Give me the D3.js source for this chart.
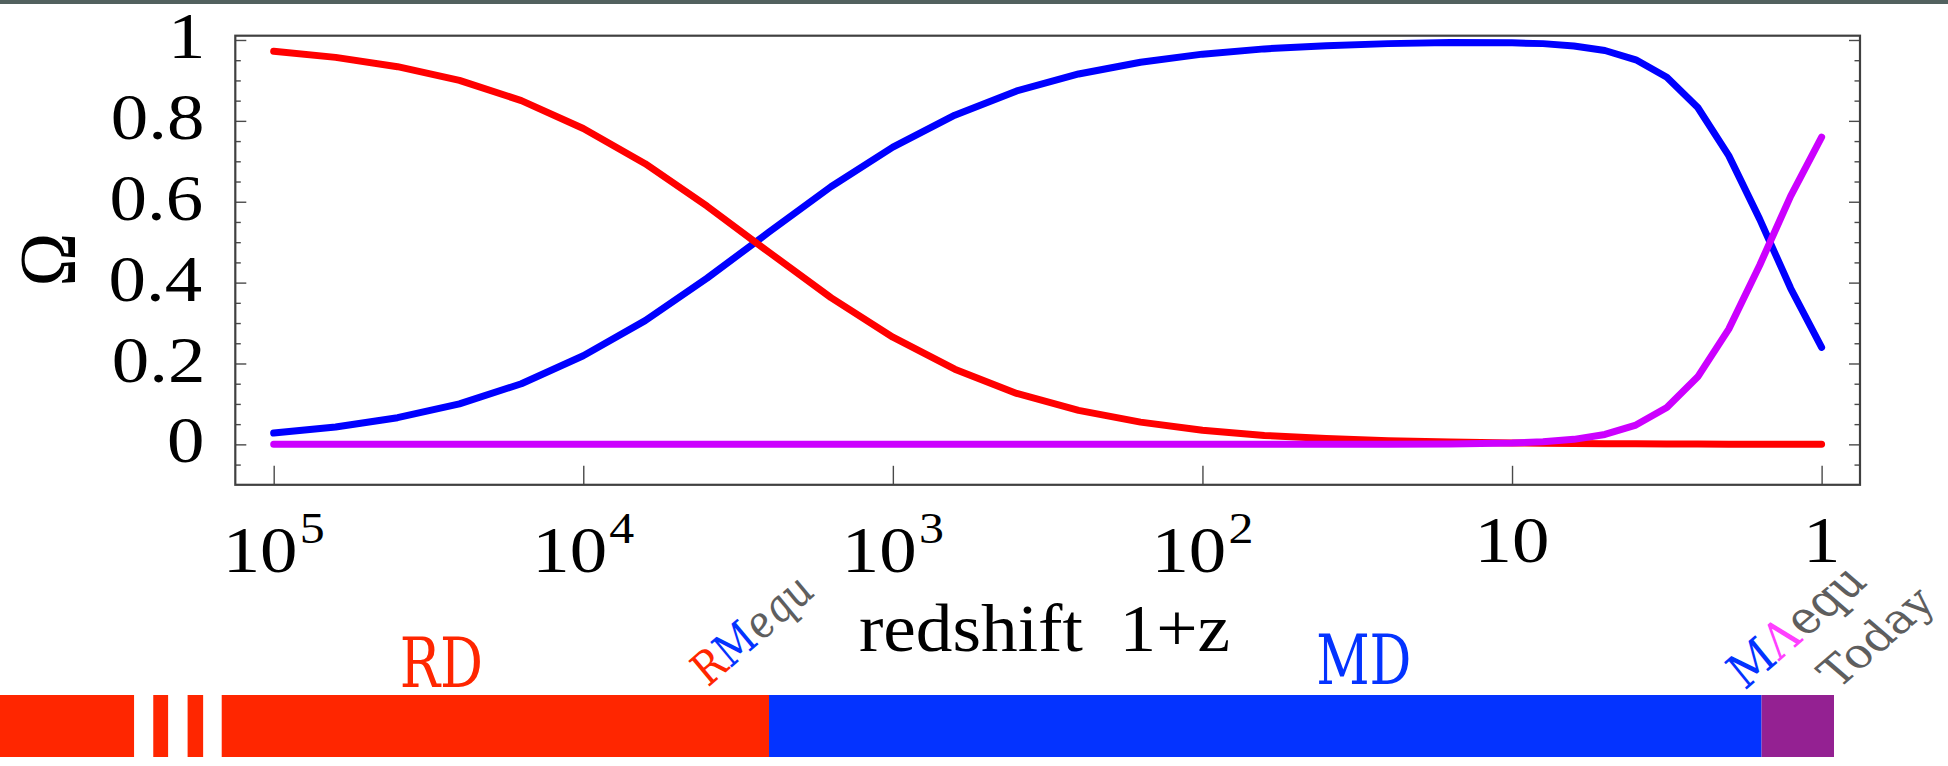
<!DOCTYPE html>
<html><head><meta charset="utf-8">
<script src="https://cdn.jsdelivr.net/npm/d3@7"></script>
<style>
html,body{margin:0;padding:0;background:#fff;}
svg{display:block;}
</style></head>
<body>
<svg id="chart" width="1948" height="766"></svg>
<script>
// ---------------- data ----------------
const redshift = [100000, 63096, 39811, 25119, 15849, 10000, 6310, 3981, 2512, 1585, 1000, 631, 398.1, 251.2, 158.5, 100, 63.1, 39.81, 25.12, 15.85, 10, 7.943, 6.310, 5.012, 3.981, 3.162, 2.512, 1.995, 1.585, 1.259, 1];
const omegaRadiation = [0.972, 0.957, 0.934, 0.900, 0.850, 0.781, 0.694, 0.589, 0.475, 0.363, 0.265, 0.186, 0.126, 0.084, 0.055, 0.035, 0.022, 0.0142, 0.0090, 0.0057, 0.0036, 0.0028, 0.0022, 0.0018, 0.0014, 0.0010, 0.0007, 0.0005, 0.0003, 0.0002, 0.0001];
const omegaMatter = [0.028, 0.043, 0.066, 0.100, 0.150, 0.219, 0.306, 0.411, 0.525, 0.637, 0.735, 0.814, 0.874, 0.916, 0.945, 0.965, 0.978, 0.986, 0.991, 0.994, 0.993, 0.991, 0.985, 0.974, 0.951, 0.908, 0.833, 0.714, 0.557, 0.386, 0.240];
const omegaLambda = [0, 0, 0, 0, 0, 0, 0, 0, 0, 0, 0, 0, 0, 0, 0, 0, 0, 0.0001, 0.0002, 0.0008, 0.0032, 0.0063, 0.0124, 0.0245, 0.0478, 0.091, 0.167, 0.285, 0.443, 0.614, 0.760];

const xTickValues = [100000, 10000, 1000, 100, 10, 1];
const xTickBase = ["10", "10", "10", "10", "10", "1"];
const xTickExponent = ["5", "4", "3", "2", "", ""];
const yTickValues = [0, 0.2, 0.4, 0.6, 0.8, 1];
const yTickLabels = ["0", "0.2", "0.4", "0.6", "0.8", "1"];
const yMinorTicks = [-0.05, 0.05, 0.1, 0.15, 0.25, 0.3, 0.35, 0.45, 0.5, 0.55, 0.65, 0.7, 0.75, 0.85, 0.9, 0.95];

// era bar (in 1+z)
const eraKind  = ["RD", "RD", "RD", "RD", "MD", "LD"];
const eraStart = [780000, 244900, 189700, 147200, 2512, 1.563];
const eraEnd   = [282500, 219300, 169000, 2512, 1.563, 0.912];
const eraLabels = ["RD", "MD"];
const eraLabelAt = [28800, 30.2];

// ---------------- layout ----------------
const plot = {left: 235.3, right: 1860, top: 35.7, bottom: 484.8};
const SERIF = '"Liberation Serif", "Times New Roman", serif';
const SLAB = '"DejaVu Serif", serif';
const lineColor = {rad: "#ff0000", mat: "#0000ff", lam: "#cc00ff"};
const eraColor = {RD: "#ff2600", MD: "#0433ff", LD: "#942192"};
const grey = "#5e5e5e";

// ink metrics helper (canvas measureText) so glyph sizes match the artwork
const ctx = document.createElement("canvas").getContext("2d");
function ink(text, family, size, style) {
  ctx.font = `${style || "normal"} ${size}px ${family}`;
  const m = ctx.measureText(text);
  return {left: -m.actualBoundingBoxLeft, right: m.actualBoundingBoxRight,
          w: m.actualBoundingBoxLeft + m.actualBoundingBoxRight,
          asc: m.actualBoundingBoxAscent, desc: m.actualBoundingBoxDescent,
          h: m.actualBoundingBoxAscent + m.actualBoundingBoxDescent, adv: m.width};
}
// serif numerals: digit height 45px, "0.8" ink width 89px
const numSize = 100 * 45 / ink("0", SERIF, 100).h;
const numSX = 89 / ink("0.8", SERIF, numSize).w;

const svg = d3.select("#chart");
svg.append("rect").attr("width", 1948).attr("height", 766).attr("fill", "#fff");
svg.append("rect").attr("width", 1948).attr("height", 4).attr("fill", "#52615f");

const x = d3.scaleLog().domain([Math.pow(10, 5.124), Math.pow(10, -0.124)]).range([plot.left, plot.right]);
const y = d3.scaleLinear().domain([-0.1, 1.0106]).range([plot.bottom, plot.top]);

function styleTicks(g) {
  g.select(".domain").remove();
  g.selectAll(".tick line").attr("stroke", "#4a4a4a").attr("stroke-width", 1.4);
}

// left axis
const gLm = svg.append("g").attr("transform", `translate(${plot.left},0)`)
  .call(d3.axisLeft(y).tickValues(yMinorTicks).tickSize(-5.5).tickFormat(""));
styleTicks(gLm);
const gL = svg.append("g").attr("transform", `translate(${plot.left},0)`)
  .call(d3.axisLeft(y).tickValues(yTickValues).tickSize(-11).tickFormat((d, i) => yTickLabels[i]));
styleTicks(gL);
gL.selectAll(".tick text")
  .attr("x", null).attr("dy", null).attr("text-anchor", "start")
  .attr("transform", (d, i) => {
    const m = ink(yTickLabels[i], SERIF, numSize);
    return `translate(${202 - plot.left - m.right * numSX},17.6) scale(${numSX},1)`;
  })
  .style("font-family", SERIF).style("font-size", numSize + "px").attr("fill", "#000");

// right axis
const gRm = svg.append("g").attr("transform", `translate(${plot.right},0)`)
  .call(d3.axisRight(y).tickValues(yMinorTicks).tickSize(-5.5).tickFormat(""));
styleTicks(gRm);
const gR = svg.append("g").attr("transform", `translate(${plot.right},0)`)
  .call(d3.axisRight(y).tickValues(yTickValues).tickSize(-11).tickFormat(""));
styleTicks(gR);

// bottom axis
const gB = svg.append("g").attr("transform", `translate(0,${plot.bottom})`)
  .call(d3.axisBottom(x).tickValues(xTickValues).tickSize(-19).tickFormat(""));
styleTicks(gB);

// x tick labels
const xl = svg.append("g").selectAll("text").data(xTickValues).join("text")
  .attr("transform", (d, i) => `translate(${x(d)},${xTickExponent[i] ? 572 : 562}) scale(${numSX},1)`)
  .attr("text-anchor", "middle")
  .style("font-family", SERIF).style("font-size", numSize + "px").attr("fill", "#000");
xl.append("tspan").text((d, i) => xTickBase[i]);
xl.filter((d, i) => xTickExponent[i] !== "").append("tspan")
  .style("font-size", (numSize * 0.667) + "px").attr("dy", -29).attr("dx", 2)
  .text(d => xTickExponent[xTickValues.indexOf(d)]);

// frame
svg.append("rect").attr("x", plot.left).attr("y", plot.top)
  .attr("width", plot.right - plot.left).attr("height", plot.bottom - plot.top)
  .attr("fill", "none").attr("stroke", "#404040").attr("stroke-width", 2.2);

// curves
const series = [
  {values: omegaMatter, color: lineColor.mat},
  {values: omegaRadiation, color: lineColor.rad},
  {values: omegaLambda, color: lineColor.lam}
];
const line = d3.line().x(d => x(d[0])).y(d => y(d[1]));
svg.append("g").selectAll("path").data(series).join("path")
  .attr("d", s => line(redshift.map((z, i) => [z, s.values[i]])))
  .attr("fill", "none").attr("stroke", s => s.color).attr("stroke-width", 7)
  .attr("stroke-linecap", "round").attr("stroke-linejoin", "round");

// Omega (rotated): on-screen width 54, height 47
{
  const s0 = ink("Ω", SERIF, 100);
  const size = 100 * 47 / s0.w;
  const m = ink("Ω", SERIF, size);
  const sx = 54 / m.h;
  const tx = 48 - sx * (m.desc - m.asc) / 2;
  const ty = 260 + (m.left + m.right) / 2;
  svg.append("text").attr("transform", `translate(${tx},${ty}) scale(${sx},1) rotate(-90)`)
    .style("font-family", SERIF).style("font-size", size + "px").attr("fill", "#000").text("Ω");
}
// x axis title: ink 860..1229, ascender 48, baseline 651
{
  const t = "redshift\u00a0\u00a01+z";
  const s0 = ink(t, SERIF, 100);
  const size = 100 * 48 / s0.asc;
  const m = ink(t, SERIF, size);
  const sx = 369 / m.w;
  svg.append("text").attr("transform", `translate(${860 - m.left * sx},651) scale(${sx},1)`)
    .style("font-family", SERIF).style("font-size", size + "px").attr("fill", "#000").text(t);
}

// era bar
const barTop = 695, barBottom = 757;
svg.append("g").selectAll("rect").data(eraKind).join("rect")
  .attr("x", (d, i) => x(eraStart[i]))
  .attr("width", (d, i) => x(eraEnd[i]) - x(eraStart[i]))
  .attr("y", barTop).attr("height", barBottom - barTop)
  .attr("fill", d => eraColor[d]);

// era labels: cap height 50, widths 78 / 90
{
  const capSize = 100 * 50 / ink("D", SLAB, 100).h;
  const widths = [78, 90], bases = [687, 684];
  svg.append("g").selectAll("text").data(eraLabels).join("text")
    .attr("transform", (d, i) => {
      const m = ink(d, SLAB, capSize);
      const sx = widths[i] / m.w;
      const cx = x(eraLabelAt[i]);
      return `translate(${cx - (m.left + m.right) / 2 * sx},${bases[i]}) scale(${sx},1)`;
    })
    .style("font-family", SLAB).style("font-size", capSize + "px")
    .attr("fill", d => eraColor[d]).text(d => d);
}

function rotLabel(x0, y0, cap, len, parts) {
  const size = 100 * cap / ink("M", SLAB, 100).h;
  const full = parts.map(p => p[0]).join("");
  const cond = len / ink(full, SLAB, size).w;
  const t = svg.append("text")
    .attr("transform", `translate(${x0},${y0}) scale(1.16,1) rotate(-45) scale(${cond},1)`)
    .style("font-family", SLAB).style("font-size", size + "px");
  parts.forEach(p => t.append("tspan").attr("fill", p[1]).style("font-style", p[2] ? "italic" : "normal").text(p[0]));
}
rotLabel(710, 686, 31, 128, [["R", eraColor.RD, true], ["M", eraColor.MD, true], ["equ", grey, true]]);
rotLabel(1747, 689, 33, 146, [["M", eraColor.MD, true], ["Λ", "#ff40ff", true], ["equ", grey, false]]);
rotLabel(1838, 690, 30, 122, [["Today", grey, false]]);
</script>
</body></html>
